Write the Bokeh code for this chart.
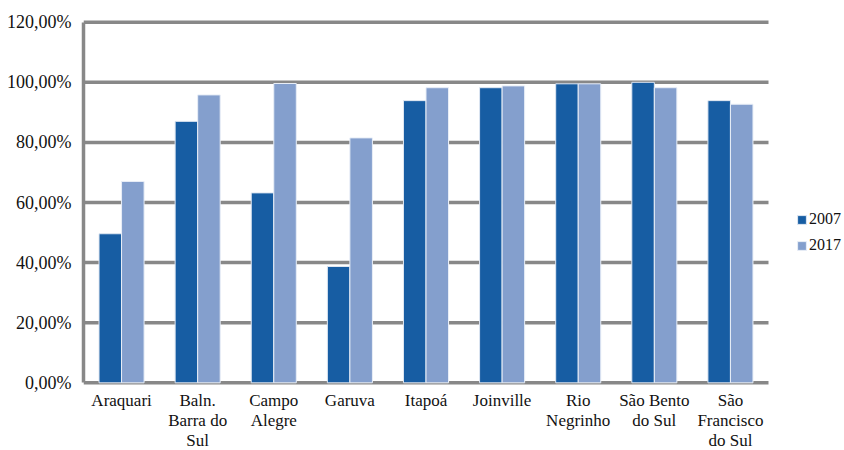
from bokeh.plotting import figure
from bokeh.models import Range1d, FixedTicker, Legend, LegendItem, ColumnDataSource
from bokeh.core.properties import value
from bokeh.embed import file_html
from bokeh.resources import INLINE

categories = ["Araquari", "Baln.\nBarra do\nSul", "Campo\nAlegre", "Garuva", "Itapoá",
              "Joinville", "Rio\nNegrinho", "São Bento\ndo Sul", "São\nFrancisco\ndo Sul"]
series_names = ["2007", "2017"]
values_2007 = [0.496, 0.870, 0.632, 0.387, 0.939, 0.982, 0.995, 1.000, 0.939]
values_2017 = [0.670, 0.958, 0.996, 0.815, 0.982, 0.988, 0.995, 0.982, 0.927]
y_ticks = [0.0, 0.2, 0.4, 0.6, 0.8, 1.0, 1.2]
y_tick_labels = ["0,00%", "20,00%", "40,00%", "60,00%", "80,00%", "100,00%", "120,00%"]

FONT = "Liberation Serif"
C2007 = "#175DA3"
C2017 = "#849FCD"
GRID = "#888888"
TXT = "#111111"

n = len(categories)
bw = 0.296
idx = list(range(n))

W, H = 844, 450
LEFT = 83
px_per_cat = 685 / n
px_per_unit_y = 300.5
zero_px = 382.3  # y pixel (from top of figure) of 0 %
y_top = 1.2 + (zero_px - 1.2 * px_per_unit_y) / px_per_unit_y
y_bot = -(H - zero_px) / px_per_unit_y
x_end = (W - LEFT) / px_per_cat

p = figure(width=W, height=H, output_backend="svg", toolbar_location=None,
           x_range=Range1d(0, x_end), y_range=Range1d(y_bot, y_top),
           min_border_left=LEFT, min_border_right=0, min_border_top=0, min_border_bottom=0)
p.outline_line_color = None
p.background_fill_color = "white"
p.border_fill_color = "white"
p.xgrid.visible = False
p.ygrid.visible = False
p.xaxis.visible = False

# horizontal gridlines across the category area
p.segment(x0=[0] * len(y_ticks), x1=[n] * len(y_ticks), y0=y_ticks, y1=y_ticks,
          line_color=GRID, line_width=3.5)

src = ColumnDataSource(dict(
    x07=[i + 0.5 - bw / 2 for i in idx],
    x17=[i + 0.5 + bw / 2 for i in idx],
    v07=values_2007, v17=values_2017))

r1 = p.vbar(x="x07", top="v07", bottom=0, width=bw, source=src,
            fill_color=C2007, line_color="#dfe7f2", line_width=1)
r2 = p.vbar(x="x17", top="v17", bottom=0, width=bw, source=src,
            fill_color=C2017, line_color="#e8eef7", line_width=1)

# category labels
p.text(x=[i + 0.5 for i in idx], y=[0] * n, text=categories,
       text_font=value(FONT), text_font_size="17px", text_color=TXT,
       text_align="center", text_baseline="top", text_line_height=1.05, y_offset=8)

# y axis
p.yaxis.bounds = (0, 1.2)
p.yaxis.ticker = FixedTicker(ticks=y_ticks)
p.yaxis.major_label_overrides = {t: l for t, l in zip(y_ticks, y_tick_labels)}
p.yaxis.axis_line_color = GRID
p.yaxis.axis_line_width = 3.5
p.yaxis.major_tick_line_color = None
p.yaxis.minor_tick_line_color = None
p.yaxis.major_tick_out = 0
p.yaxis.major_tick_in = 0
p.yaxis.major_label_text_font = FONT
p.yaxis.major_label_text_font_size = "18px"
p.yaxis.major_label_text_color = TXT
p.yaxis.major_label_standoff = 12

legend = Legend(items=[LegendItem(label=series_names[0], renderers=[r1]),
                       LegendItem(label=series_names[1], renderers=[r2])],
                location=(713, 196), orientation="vertical")
legend.border_line_color = None
legend.background_fill_alpha = 0
legend.padding = 0
legend.margin = 0
legend.glyph_width = 11
legend.glyph_height = 11
legend.label_standoff = 2
legend.spacing = 8
legend.label_text_font = FONT
legend.label_text_font_size = "16px"
legend.label_text_color = TXT
p.add_layout(legend, "center")

open("out.html", "w").write(file_html(p, INLINE))
